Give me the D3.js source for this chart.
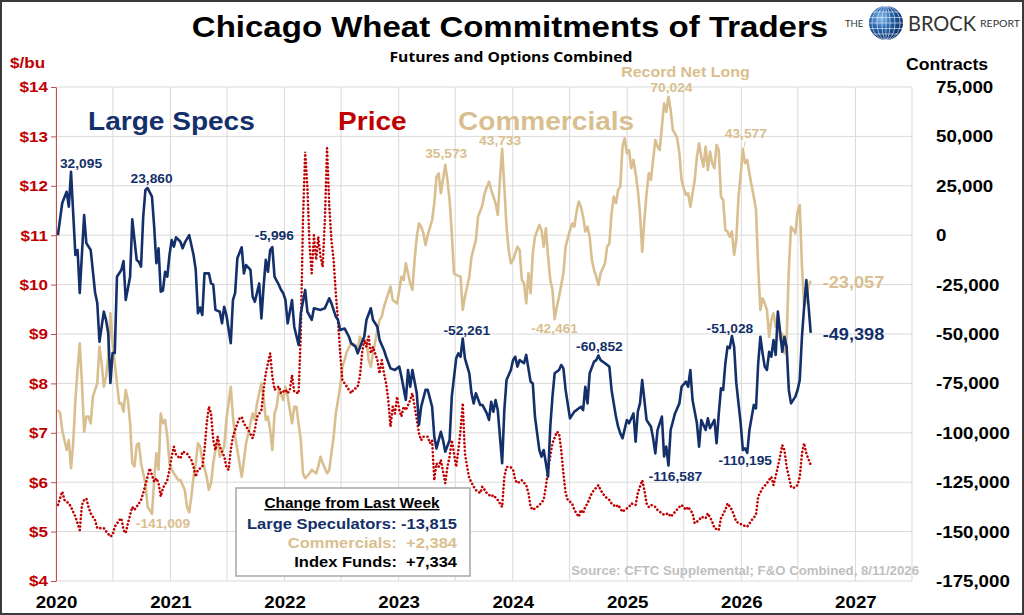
<!DOCTYPE html>
<html>
<head>
<meta charset="utf-8">
<script src="https://cdnjs.cloudflare.com/ajax/libs/d3/7.8.5/d3.min.js"></script>
<style>
  body { margin: 0; background: #fff; }
  svg { display: block; font-family: "Liberation Sans", Arial, sans-serif; }
</style>
</head>
<body>
<script>
// weekly report data, week 0 = Tue 2020-01-07 ... week 344 = Tue 2026-08-11
// net positions in contracts, price in $/bu
var largeSpecs = [[0,0],[2,16300],[4,22000],[5,14400],[6,32095],[8,-10000],[9,-7500],[10,-29200],[12,10200],[13,-4000],[15,-7500],[17,-29000],[18,-34300],[19,-53900],[21,-38700],[22,-42900],[23,-49500],[24,-74800],[25,-59600],[26,-59600],[27,-21000],[29,-17600],[30,-13100],[31,-32800],[33,-21000],[34,8000],[36,-12500],[37,-13400],[38,-15900],[39,9400],[40,22900],[41,23860],[43,19500],[44,4300],[45,-14200],[46,-6600],[47,-28600],[48,-28000],[49,-18500],[50,-21000],[51,-10000],[52,-2400],[53,-5800],[54,-1100],[56,-3300],[57,-6600],[58,-3800],[60,0],[62,-10000],[63,-17600],[64,-39500],[65,-36600],[66,-40400],[67,-19300],[69,-19300],[70,-24400],[71,-25000],[72,-37800],[74,-38700],[75,-44600],[76,-36200],[77,-40400],[79,-54700],[80,-32800],[81,-29200],[82,-11700],[84,-6100],[85,-19300],[86,-15100],[88,-17600],[89,-31100],[90,-33700],[92,-24400],[93,-42100],[94,-26000],[95,-12500],[96,-18500],[97,-7500],[98,-5996],[99,-21000],[101,-25200],[102,-27700],[103,-29400],[104,-32800],[105,-44600],[107,-32800],[108,-46300],[110,-55600],[111,-39500],[113,-27700],[114,-38700],[116,-42900],[117,-37000],[120,-37800],[122,-37000],[124,-31900],[125,-34500],[127,-41200],[128,-42900],[129,-48000],[131,-47200],[133,-51400],[134,-54700],[136,-56400],[137,-59800],[139,-53900],[140,-51400],[141,-42900],[143,-37000],[144,-42900],[146,-46300],[147,-53100],[149,-58100],[150,-61500],[152,-67400],[154,-68200],[156,-66500],[157,-71600],[159,-83400],[160,-68200],[161,-76700],[162,-68200],[164,-80000],[165,-96000],[166,-86800],[168,-78300],[169,-78300],[171,-86800],[172,-102000],[173,-107900],[175,-99500],[176,-103700],[177,-109600],[179,-103700],[180,-81700],[182,-62300],[183,-59800],[184,-61500],[185,-52261],[186,-62300],[188,-69900],[189,-80000],[190,-85100],[191,-80000],[193,-85900],[194,-85900],[196,-90200],[197,-93500],[198,-84300],[199,-89300],[200,-83400],[201,-88500],[203,-115400],[204,-88500],[205,-73300],[207,-68200],[208,-63200],[209,-61500],[210,-66500],[211,-63200],[213,-64800],[214,-60600],[216,-74100],[217,-75000],[218,-91800],[220,-108700],[221,-112100],[222,-108700],[223,-115400],[224,-122200],[225,-96900],[226,-81700],[227,-69900],[229,-68200],[230,-65700],[231,-67400],[232,-78300],[234,-92700],[236,-89300],[237,-88500],[239,-86800],[240,-88500],[241,-76700],[242,-85100],[243,-69900],[245,-64000],[246,-63200],[247,-60852],[248,-63200],[250,-64800],[252,-66500],[253,-78300],[255,-91800],[256,-96900],[257,-100300],[258,-102800],[260,-93500],[261,-95200],[263,-90200],[264,-104500],[265,-89300],[266,-85100],[267,-73300],[268,-83400],[269,-93500],[271,-96900],[272,-102800],[273,-110400],[274,-98600],[276,-91800],[277,-112000],[278,-107000],[279,-116587],[280,-98600],[282,-90200],[284,-85100],[285,-76700],[287,-74100],[288,-76700],[289,-68200],[290,-83400],[292,-95200],[293,-107000],[294,-93500],[296,-98600],[297,-92700],[298,-97700],[300,-93500],[301,-105300],[302,-90200],[303,-77500],[304,-78300],[305,-64800],[306,-56400],[307,-57200],[308,-51028],[309,-56400],[310,-74900],[312,-95200],[313,-108700],[314,-107900],[315,-110195],[316,-98600],[318,-85900],[319,-87700],[320,-64800],[321,-51400],[322,-59800],[323,-66500],[324,-68200],[325,-59000],[326,-61500],[327,-53100],[328,-60600],[329,-38700],[330,-48800],[331,-59000],[332,-51400],[333,-56400],[334,-78300],[335,-85100],[337,-81700],[338,-78300],[339,-73300],[340,-51400],[341,-36200],[342,-22700],[343,-35583],[344,-49398]];

var commercials = [[0,-88400],[1,-90000],[2,-98600],[4,-108700],[5,-103700],[6,-117900],[7,-105300],[8,-83400],[9,-68200],[10,-54700],[11,-74900],[12,-99400],[13,-91800],[14,-91800],[15,-95200],[16,-81700],[17,-78300],[18,-74900],[19,-56400],[20,-64800],[21,-76700],[22,-71600],[23,-61500],[24,-39500],[25,-54700],[26,-64800],[27,-74900],[28,-85100],[29,-85100],[30,-89300],[31,-78300],[32,-83400],[33,-95200],[34,-115400],[35,-117000],[36,-106200],[37,-105300],[38,-115400],[40,-125500],[41,-137400],[43,-141009],[44,-123900],[45,-110400],[46,-118700],[47,-90200],[48,-95200],[49,-93500],[50,-102000],[51,-115400],[52,-118700],[53,-120500],[55,-123900],[56,-123900],[58,-128900],[59,-137400],[60,-140200],[61,-132300],[62,-122200],[63,-115400],[64,-105300],[65,-107000],[66,-113800],[68,-122200],[69,-128900],[70,-125500],[71,-115400],[72,-108700],[73,-103700],[74,-112100],[76,-107000],[77,-93500],[78,-85100],[79,-76700],[80,-91800],[81,-102000],[82,-108700],[83,-115400],[84,-122200],[85,-113800],[86,-105300],[88,-95200],[89,-90200],[90,-93500],[91,-85100],[92,-80000],[93,-74900],[94,-81700],[95,-93500],[96,-91800],[97,-98600],[98,-108700],[99,-90200],[100,-86800],[101,-78000],[103,-83400],[104,-76700],[105,-81700],[107,-95200],[108,-86800],[109,-86800],[111,-103700],[112,-120500],[113,-123000],[115,-120500],[116,-118800],[118,-120500],[119,-117100],[120,-112100],[121,-115400],[123,-120500],[124,-118800],[125,-110400],[126,-102000],[127,-90200],[129,-76700],[130,-66500],[131,-63200],[132,-59000],[134,-54700],[136,-55600],[137,-58100],[138,-51400],[139,-53100],[141,-53100],[142,-63200],[143,-66500],[144,-59800],[146,-48000],[147,-43000],[148,-41200],[149,-36200],[150,-32800],[152,-26000],[153,-32800],[155,-34500],[156,-27700],[157,-21000],[158,-22700],[159,-14200],[160,-19300],[161,-24400],[162,-27700],[163,-12500],[164,-800],[165,6000],[166,4300],[167,1000],[168,-5000],[169,0],[171,7700],[172,16200],[173,29600],[174,31300],[175,21200],[177,35573],[178,27900],[179,17800],[180,1000],[181,-19300],[182,-20100],[184,-21000],[185,-37800],[186,-31100],[188,-21000],[189,-10900],[191,-2400],[192,9400],[194,15300],[195,21200],[197,27100],[198,22900],[199,19500],[200,16200],[201,10200],[202,28000],[203,43733],[204,24600],[205,4300],[206,-7500],[207,-14200],[208,-12500],[210,-5800],[211,-7500],[212,-22700],[213,-24400],[214,-34500],[215,-19300],[216,-29400],[217,-9200],[218,-800],[220,5200],[221,2600],[222,-5800],[223,3500],[224,-10900],[225,-22700],[226,-27700],[227,-42461],[228,-36200],[229,-31100],[231,-19300],[232,-5800],[234,2600],[235,5900],[236,4300],[237,11900],[238,17000],[239,14400],[240,9400],[241,1900],[242,4300],[243,-800],[244,-12500],[245,-17600],[246,-21000],[247,-25200],[248,-19300],[250,-14200],[251,-5800],[252,-4200],[253,11100],[254,19500],[255,16200],[256,22900],[257,24600],[258,44800],[259,49000],[260,41400],[261,43100],[262,33900],[263,38100],[264,31300],[265,22900],[266,11100],[267,-8300],[268,7700],[269,21200],[270,31300],[271,28000],[272,38100],[273,48200],[274,44800],[275,43100],[276,54900],[277,66700],[278,62500],[279,70024],[280,63400],[281,53200],[282,51500],[283,49000],[284,41400],[285,27900],[286,23700],[287,20400],[288,21200],[289,14400],[291,27900],[292,39700],[293,46500],[294,39700],[295,34700],[296,44800],[297,33000],[298,42300],[299,36400],[300,33900],[301,45600],[302,43100],[303,19500],[304,17800],[305,2600],[306,1900],[307,-800],[308,1900],[309,-10000],[310,-2400],[311,19500],[312,30500],[313,43577],[314,36400],[315,38100],[316,31300],[317,25000],[318,19500],[319,12800],[320,-15900],[321,-37800],[322,-31900],[323,-34500],[324,-37800],[325,-51400],[326,-42900],[327,-39500],[328,-46300],[329,-40400],[330,-53100],[331,-49800],[332,-59800],[333,-52000],[334,-17600],[335,4300],[336,2600],[337,1000],[338,11900],[339,15300],[340,-15900],[341,-36200],[342,-32800],[343,-25441],[344,-23057]];

var wheatPrice = [[0,5.54],[2,5.81],[3,5.64],[5,5.57],[6,5.50],[7,5.40],[8,5.30],[10,5.03],[11,5.54],[12,5.64],[13,5.67],[14,5.50],[15,5.37],[17,5.23],[18,5.07],[21,5.07],[22,5.01],[24,4.90],[25,4.93],[26,5.10],[28,5.23],[29,5.27],[30,5.03],[31,4.97],[32,5.17],[34,5.50],[35,5.44],[37,5.57],[38,5.64],[39,5.78],[41,6.11],[42,6.28],[43,6.14],[44,6.01],[45,6.08],[46,5.98],[47,5.71],[48,5.88],[50,6.04],[51,6.25],[52,6.52],[53,6.72],[54,6.55],[56,6.48],[57,6.62],[59,6.58],[61,6.45],[62,6.31],[63,6.11],[64,6.25],[66,6.31],[67,6.65],[68,7.19],[69,7.53],[70,7.39],[71,6.85],[72,6.65],[73,6.92],[74,6.72],[76,6.52],[77,6.31],[78,6.25],[79,6.65],[80,6.92],[82,7.19],[83,7.29],[84,7.32],[85,7.19],[87,7.06],[89,6.89],[90,7.06],[91,7.32],[93,7.46],[94,7.87],[95,8.20],[96,8.41],[97,8.61],[98,8.14],[99,7.87],[101,7.94],[102,7.80],[104,7.87],[105,7.80],[106,7.87],[107,8.17],[108,7.83],[110,7.80],[111,9.00],[112,11.31],[113,12.69],[114,11.98],[115,10.80],[116,10.23],[117,11.00],[118,10.50],[119,10.97],[120,10.57],[121,10.36],[122,11.31],[123,12.76],[124,11.60],[125,10.90],[126,10.50],[127,9.82],[128,9.28],[129,8.61],[130,8.07],[131,8.00],[133,7.87],[134,7.80],[135,7.87],[137,7.93],[138,8.14],[139,8.61],[140,8.88],[141,8.74],[142,8.95],[143,8.61],[144,8.74],[146,8.47],[147,8.20],[148,8.47],[149,8.20],[150,8.00],[151,7.66],[152,7.12],[153,7.53],[154,7.39],[155,7.73],[156,7.46],[157,7.33],[158,7.53],[159,7.46],[161,7.66],[162,7.80],[163,7.53],[164,7.26],[165,6.99],[166,6.85],[167,6.92],[169,6.92],[170,6.79],[171,6.85],[172,6.04],[173,6.38],[174,6.31],[175,6.45],[177,5.98],[178,6.31],[179,6.52],[180,6.85],[181,6.58],[182,6.31],[183,6.65],[184,7.06],[185,7.60],[186,6.58],[187,6.31],[188,6.08],[190,5.91],[191,5.84],[193,5.78],[194,5.91],[196,5.78],[198,5.71],[199,5.74],[201,5.64],[202,5.57],[203,5.50],[204,6.11],[205,6.31],[207,6.30],[208,6.25],[209,6.04],[210,5.98],[212,6.04],[214,5.94],[215,5.78],[216,5.50],[217,5.44],[219,5.50],[220,5.54],[222,5.64],[223,5.91],[224,6.25],[225,6.52],[226,6.79],[228,7.02],[229,6.99],[230,6.65],[231,6.18],[232,5.78],[233,5.64],[235,5.57],[236,5.44],[238,5.30],[239,5.44],[240,5.37],[241,5.50],[242,5.57],[244,5.78],[245,5.84],[247,5.94],[248,5.84],[250,5.71],[252,5.64],[253,5.57],[255,5.50],[256,5.54],[258,5.40],[259,5.44],[261,5.50],[262,5.57],[264,5.54],[265,5.78],[267,6.04],[268,5.84],[269,5.57],[270,5.50],[271,5.54],[273,5.50],[274,5.44],[276,5.37],[277,5.34],[279,5.37],[280,5.30],[282,5.40],[284,5.50],[285,5.54],[287,5.44],[288,5.50],[290,5.37],[291,5.17],[293,5.23],[294,5.30],[296,5.27],[297,5.37],[299,5.20],[300,5.07],[302,5.03],[303,5.27],[305,5.44],[306,5.57],[308,5.44],[310,5.20],[313,5.13],[315,5.10],[317,5.23],[319,5.34],[320,5.71],[322,5.88],[324,5.98],[326,6.11],[327,5.94],[329,6.31],[330,6.52],[331,6.75],[332,6.65],[333,6.31],[335,5.91],[336,5.88],[338,5.94],[339,6.11],[340,6.58],[341,6.79],[342,6.58],[344,6.35]];

var priceTicks = [4, 5, 6, 7, 8, 9, 10, 11, 12, 13, 14];
var contractTicks = [-175000, -150000, -125000, -100000, -75000, -50000, -25000, 0, 25000, 50000, 75000];
var yearTicks = [2020, 2021, 2022, 2023, 2024, 2025, 2026, 2027];

// weeks that carry a value label
var specNotes = [6, 41, 98, 185, 247, 279, 308, 315];
var commNotes = [43, 177, 203, 227, 279, 313];
var indexFundsChange = 7334;

var navy = "#14306a", tan = "#d9bf8f", red = "#c00000";

var W = 1024, H = 615;
var plotLeft = 56, plotRight = 912, plotTop = 87, plotBottom = 581;

var loc = d3.formatLocale({decimal: ".", thousands: ",", grouping: [3], currency: ["$", ""], minus: "-"});
var fmt = loc.format(",");
var fmtSigned = loc.format("+,");

var svg = d3.select("body").append("svg")
  .attr("width", W)
  .attr("height", H);

var weekDate = function(w) { return new Date(2020, 0, 7 + 7 * w); };

var x = d3.scaleTime().domain([new Date(2020, 0, 1), new Date(2027, 6, 1)]).range([plotLeft, plotRight]);
var yPrice = d3.scaleLinear().domain([4, 14]).range([plotBottom, plotTop]);
var yCon = d3.scaleLinear().domain([-175000, 75000]).range([plotBottom, plotTop]);

// grid
svg.append("g").selectAll("line")
  .data(priceTicks)
  .enter().append("line")
  .attr("x1", plotLeft).attr("x2", plotRight)
  .attr("y1", function(d) { return yPrice(d); })
  .attr("y2", function(d) { return yPrice(d); })
  .attr("stroke", "#d9d9d9");

svg.append("g").selectAll("line")
  .data(x.ticks(d3.timeMonth.every(6)))
  .enter().append("line")
  .attr("x1", function(d) { return x(d); })
  .attr("x2", function(d) { return x(d); })
  .attr("y1", plotTop).attr("y2", plotBottom)
  .attr("stroke", "#d9d9d9");

// series
var conLine = d3.line()
  .x(function(d) { return x(weekDate(d[0])); })
  .y(function(d) { return yCon(d[1]); });
var priceLine = d3.line()
  .x(function(d) { return x(weekDate(d[0])); })
  .y(function(d) { return yPrice(d[1]); });

svg.append("path")
  .datum(commercials)
  .attr("d", conLine)
  .attr("fill", "none")
  .attr("stroke", tan)
  .attr("stroke-width", 2.6)
  .attr("stroke-linejoin", "round");

svg.append("path")
  .datum(wheatPrice)
  .attr("d", priceLine)
  .attr("fill", "none")
  .attr("stroke", red)
  .attr("stroke-width", 2.6)
  .attr("stroke-linecap", "round")
  .attr("stroke-dasharray", "0.1,3.7");

svg.append("path")
  .datum(largeSpecs)
  .attr("d", conLine)
  .attr("fill", "none")
  .attr("stroke", navy)
  .attr("stroke-width", 2.6)
  .attr("stroke-linejoin", "round");

// axes
var leftAxis = svg.append("g")
  .attr("transform", "translate(" + plotLeft + ",0)")
  .call(d3.axisLeft(yPrice).tickValues(priceTicks).tickFormat(function(d) { return "$" + d; }).tickSize(5).tickSizeOuter(0).tickPadding(3));
leftAxis.select(".domain").attr("stroke", "#c0504d");
leftAxis.selectAll(".tick line").attr("stroke", "#c0504d");
leftAxis.selectAll("text")
  .attr("fill", red)
  .style("font-size", "15.5px")
  .style("font-weight", "bold");

var rightAxis = svg.append("g")
  .attr("transform", "translate(" + plotRight + ",0)")
  .call(d3.axisRight(yCon).tickValues(contractTicks).tickFormat(fmt).tickSize(0).tickPadding(24));
rightAxis.select(".domain").remove();
rightAxis.selectAll("text")
  .attr("fill", "#000")
  .style("font-size", "17px")
  .style("font-weight", "bold");

var bottomAxis = svg.append("g")
  .attr("transform", "translate(0," + plotBottom + ")")
  .call(d3.axisBottom(x).tickValues(yearTicks.map(function(y) { return new Date(y, 0, 1); }))
    .tickFormat(d3.timeFormat("%Y")).tickSize(0).tickPadding(15));
bottomAxis.select(".domain").remove();
bottomAxis.selectAll("text")
  .attr("fill", "#000")
  .style("font-size", "17px")
  .style("font-weight", "bold");

// axis titles
svg.append("text").attr("x", 10).attr("y", 68).text("$/bu")
  .attr("fill", red).style("font-size", "15.5px").style("font-weight", "bold");
svg.append("text").attr("x", 906).attr("y", 70).text("Contracts")
  .attr("fill", "#000").style("font-size", "16px").style("font-weight", "bold");

// titles
svg.append("text").attr("x", 510).attr("y", 37)
  .attr("text-anchor", "middle")
  .style("font-size", "30px").style("font-weight", "bold")
  .text("Chicago Wheat Commitments of Traders");
svg.append("text").attr("class", "nw").attr("x", 511).attr("y", 62)
  .attr("text-anchor", "middle")
  .attr("textLength", 243).attr("lengthAdjust", "spacingAndGlyphs")
  .style("font-family", "'Open Sans', 'Noto Sans', sans-serif")
  .style("font-size", "14px").style("font-weight", "bold")
  .text("Futures and Options Combined");

// series names
var names = [["Large Specs", navy, 88], ["Price", red, 338], ["Commercials", tan, 458]];
svg.selectAll(".seriesName")
  .data(names)
  .enter().append("text")
  .attr("class", "seriesName")
  .attr("x", function(d) { return d[2]; })
  .attr("y", 130)
  .attr("fill", function(d) { return d[1]; })
  .style("font-size", "25.5px").style("font-weight", "bold")
  .text(function(d) { return d[0]; });

// value labels
var lookup = function(arr, w) { return arr.find(function(d) { return d[0] === w; }); };
var specOffsets = [[10, -4], [4, -5], [2, -7], [4, -3], [1, -4], [7, 15], [-2, -3], [-2, 12]];
var commOffsets = [[11, 14], [1, -7], [-2, -4], [0, 14], [3, -5], [3, -11]];

specNotes.forEach(function(w, i) {
  var d = lookup(largeSpecs, w);
  svg.append("text")
    .attr("x", x(weekDate(w)) + specOffsets[i][0])
    .attr("y", yCon(d[1]) + specOffsets[i][1])
    .attr("text-anchor", "middle")
    .attr("fill", navy)
    .style("font-size", "12.5px").style("font-weight", "bold")
    .text(fmt(d[1]));
});
commNotes.forEach(function(w, i) {
  var d = lookup(commercials, w);
  svg.append("text")
    .attr("x", x(weekDate(w)) + commOffsets[i][0])
    .attr("y", yCon(d[1]) + commOffsets[i][1])
    .attr("text-anchor", "middle")
    .attr("fill", tan)
    .style("font-size", "12.5px").style("font-weight", "bold")
    .text(fmt(d[1]));
});

// record net long callout
var rec = lookup(commercials, 279);
svg.append("text")
  .attr("x", x(weekDate(279)) + 17)
  .attr("y", yCon(rec[1]) - 20)
  .attr("text-anchor", "middle")
  .attr("fill", tan)
  .style("font-size", "14.5px").style("font-weight", "bold")
  .text("Record Net Long");

// leader for 43,577
var c313 = lookup(commercials, 313);
svg.append("line")
  .attr("x1", x(weekDate(313)) + 1).attr("x2", x(weekDate(313)) + 2.5)
  .attr("y1", yCon(c313[1]) - 1).attr("y2", yCon(c313[1]) - 8)
  .attr("stroke", tan).attr("stroke-width", 0.8);

// latest values
var lastSpec = largeSpecs[largeSpecs.length - 1];
var prevSpec = largeSpecs[largeSpecs.length - 2];
var lastComm = commercials[commercials.length - 1];
var prevComm = commercials[commercials.length - 2];

svg.append("text")
  .attr("x", x(weekDate(lastComm[0])) + 12)
  .attr("y", yCon(lastComm[1]) + 7)
  .attr("fill", tan)
  .style("font-size", "16.5px").style("font-weight", "bold")
  .text(fmt(lastComm[1]));
svg.append("text")
  .attr("x", x(weekDate(lastSpec[0])) + 12)
  .attr("y", yCon(lastSpec[1]) + 7)
  .attr("fill", navy)
  .style("font-size", "16.5px").style("font-weight", "bold")
  .text(fmt(lastSpec[1]));

// change box
var box = svg.append("g");
box.append("rect")
  .attr("x", 236).attr("y", 488)
  .attr("width", 234).attr("height", 88)
  .attr("fill", "#fff")
  .attr("stroke", "#a6a6a6")
  .attr("stroke-width", 1.5);
box.append("text")
  .attr("x", 352).attr("y", 508)
  .attr("text-anchor", "middle")
  .style("font-size", "14px").style("font-weight", "bold")
  .style("text-decoration", "underline")
  .text("Change from Last Week");
var changes = [
  ["Large Speculators: " + fmtSigned(lastSpec[1] - prevSpec[1]), navy],
  ["Commercials:  " + fmtSigned(lastComm[1] - prevComm[1]), tan],
  ["Index Funds:  " + fmtSigned(indexFundsChange), "#000"]
];
box.selectAll(".chg")
  .data(changes)
  .enter().append("text")
  .attr("class", "chg")
  .attr("x", 457)
  .attr("y", function(d, i) { return 529 + i * 19; })
  .attr("text-anchor", "end")
  .attr("fill", function(d) { return d[1]; })
  .style("font-size", "15px").style("font-weight", "bold")
  .style("white-space", "pre")
  .text(function(d) { return d[0]; });

// source
svg.append("text")
  .attr("x", 919).attr("y", 575)
  .attr("text-anchor", "end")
  .attr("fill", "#bfbfbf")
  .style("font-size", "12px").style("font-weight", "bold")
  .text("Source: CFTC Supplemental; F&O Combined, 8/11/2026");

// logo
var defs = svg.append("defs");
var grad = defs.append("radialGradient").attr("id", "globe").attr("cx", "35%").attr("cy", "35%").attr("r", "70%");
grad.append("stop").attr("offset", "0%").attr("stop-color", "#8ec0ee");
grad.append("stop").attr("offset", "45%").attr("stop-color", "#2563ad");
grad.append("stop").attr("offset", "100%").attr("stop-color", "#0b2a5e");
defs.append("clipPath").attr("id", "globeClip")
  .append("circle").attr("cx", 886).attr("cy", 23).attr("r", 17);

var logo = svg.append("g");
logo.append("text").attr("class", "nw").attr("x", 845).attr("y", 27)
  .attr("fill", "#333").style("font-family", "Lato, sans-serif").style("font-size", "9.5px").text("THE");
logo.append("circle").attr("cx", 886).attr("cy", 23).attr("r", 17).attr("fill", "url(#globe)");
var grid = logo.append("g").attr("clip-path", "url(#globeClip)")
  .attr("stroke", "#dbe9f7").attr("stroke-opacity", 0.75).attr("stroke-width", 0.9).attr("fill", "none");
[4, 9, 14].forEach(function(rx) {
  grid.append("ellipse").attr("cx", 886).attr("cy", 23).attr("rx", rx).attr("ry", 17);
});
grid.append("line").attr("x1", 886).attr("x2", 886).attr("y1", 6).attr("y2", 40);
[-11, -5.5, 0, 5.5, 11].forEach(function(dy) {
  grid.append("line").attr("x1", 869).attr("x2", 903).attr("y1", 23 + dy).attr("y2", 23 + dy);
});
logo.append("text").attr("class", "nw").attr("x", 908).attr("y", 31)
  .attr("fill", "#333").style("font-family", "Lato, sans-serif").style("font-size", "21px")
  .attr("textLength", 68).attr("lengthAdjust", "spacingAndGlyphs").text("BROCK");
logo.append("text").attr("class", "nw").attr("x", 980).attr("y", 27)
  .attr("fill", "#333").style("font-family", "Lato, sans-serif").style("font-size", "9.5px")
  .attr("textLength", 40).attr("lengthAdjust", "spacingAndGlyphs").text("REPORT");

// frame
svg.append("rect")
  .attr("x", 1).attr("y", 1)
  .attr("width", W - 2).attr("height", H - 2)
  .attr("fill", "none")
  .attr("stroke", "#3a3a3a")
  .attr("stroke-width", 2);

// the source picture is a little wider than Arial, stretch text to match
svg.selectAll("text").filter(function() { return !this.classList.contains("nw"); })
  .each(function() {
    var len = this.getComputedTextLength();
    d3.select(this).attr("textLength", len * 1.1).attr("lengthAdjust", "spacingAndGlyphs");
  });
</script>
</body>
</html>
